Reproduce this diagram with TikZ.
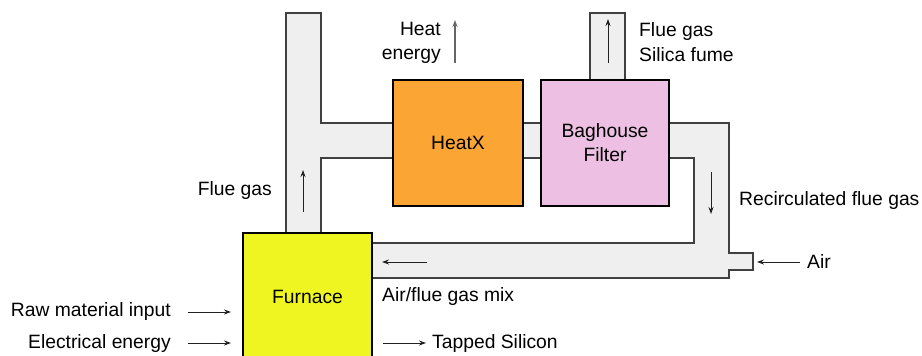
\documentclass[tikz,border=0pt]{standalone}
\usepackage{fontspec}
\setmainfont{Liberation Sans}
\usetikzlibrary{arrows.meta}
\definecolor{ductfill}{HTML}{EFEFEF}
\definecolor{ductline}{HTML}{404040}
\definecolor{heatxc}{HTML}{FAA534}
\definecolor{bagc}{HTML}{EDBFE2}
\definecolor{furnc}{HTML}{EEF521}
\definecolor{arrc}{HTML}{222222}
\definecolor{heatarr}{HTML}{666666}
\tikzset{
  duct/.style={fill=ductfill, draw=ductline, line width=1.1pt, line join=miter},
  unitbox/.style={draw=black, line width=1.8pt, inner sep=0pt, align=center},
  lbl/.style={inner sep=0pt, font=\fontsize{19.3}{23.8}\selectfont},
  arr/.style={draw=arrc, line width=1pt, -{Stealth[length=7pt,width=5pt]}},
}
\begin{document}
\begin{tikzpicture}[x=1pt,y=-1pt]
\useasboundingbox (0,0) rectangle (922,356);
\clip (0,0) rectangle (922,356);
% ducts
\path[duct] (286,233) -- (286,13) -- (321,13) -- (321,123) -- (393,123) -- (393,158) -- (321,158) -- (321,233) -- cycle;
\path[duct] (523,123) rectangle (541,158);
\path[duct] (590,13) rectangle (625,80);
\path[duct] (669,123) -- (729,123) -- (729,253) -- (753,253) -- (753,270) -- (729,270) -- (729,278) -- (372,278) -- (372,243) -- (694,243) -- (694,158) -- (669,158) -- cycle;
% units
\node[unitbox, lbl, fill=heatxc, minimum width=130pt, minimum height=126pt] (heatx) at (458,143) {HeatX};
\node[unitbox, lbl, fill=bagc, minimum width=128pt, minimum height=126pt] (bag) at (605,143) {Baghouse\\Filter};
\node[unitbox, fill=furnc, minimum width=129pt, minimum height=150pt] (furnace) at (307.5,308) {};
\node[lbl, anchor=base] (furnacelbl) at (307.5,303) {Furnace};
% labels
\node[lbl, anchor=base east] (heat1) at (441,35) {Heat};
\node[lbl, anchor=base east] (heat2) at (441,59) {energy};
\node[lbl, anchor=base west] (fg1) at (639,36) {Flue gas};
\node[lbl, anchor=base west] (fg2) at (639,61) {Silica fume};
\node[lbl, anchor=base east] (fgl) at (272,195) {Flue gas};
\node[lbl, anchor=base west] (recirc) at (739,205) {Recirculated flue gas};
\node[lbl, anchor=base west] (air) at (807,268) {Air};
\node[lbl, anchor=base west] (mix) at (382,301) {Air/flue gas mix};
\node[lbl, anchor=base west] (tapped) at (432,348) {Tapped Silicon};
\node[lbl, anchor=base east] (raw) at (171,316) {Raw material input};
\node[lbl, anchor=base east] (elec) at (171,348) {Electrical energy};
% arrow end points
\coordinate (he1) at (455,63);  \coordinate (he2) at (455,20);
\coordinate (tf1) at (608,63);  \coordinate (tf2) at (608,19);
\coordinate (cf1) at (303,212); \coordinate (cf2) at (303,170);
\coordinate (rc1) at (711,172); \coordinate (rc2) at (711,214);
\coordinate (ai1) at (800,262); \coordinate (ai2) at (757,262);
\coordinate (mx1) at (427,262); \coordinate (mx2) at (382,262);
\coordinate (ts1) at (383,343); \coordinate (ts2) at (426,343);
\coordinate (rw1) at (188,312); \coordinate (rw2) at (231,312);
\coordinate (el1) at (188,343); \coordinate (el2) at (231,343);
\draw[arr, draw=heatarr, fill=heatarr, line width=1.6pt] (he1) -- (he2);
\draw[arr] (tf1) -- (tf2);
\draw[arr] (cf1) -- (cf2);
\draw[arr] (rc1) -- (rc2);
\draw[arr] (ai1) -- (ai2);
\draw[arr] (mx1) -- (mx2);
\draw[arr] (ts1) -- (ts2);
\draw[arr] (rw1) -- (rw2);
\draw[arr] (el1) -- (el2);
\end{tikzpicture}
\end{document}
